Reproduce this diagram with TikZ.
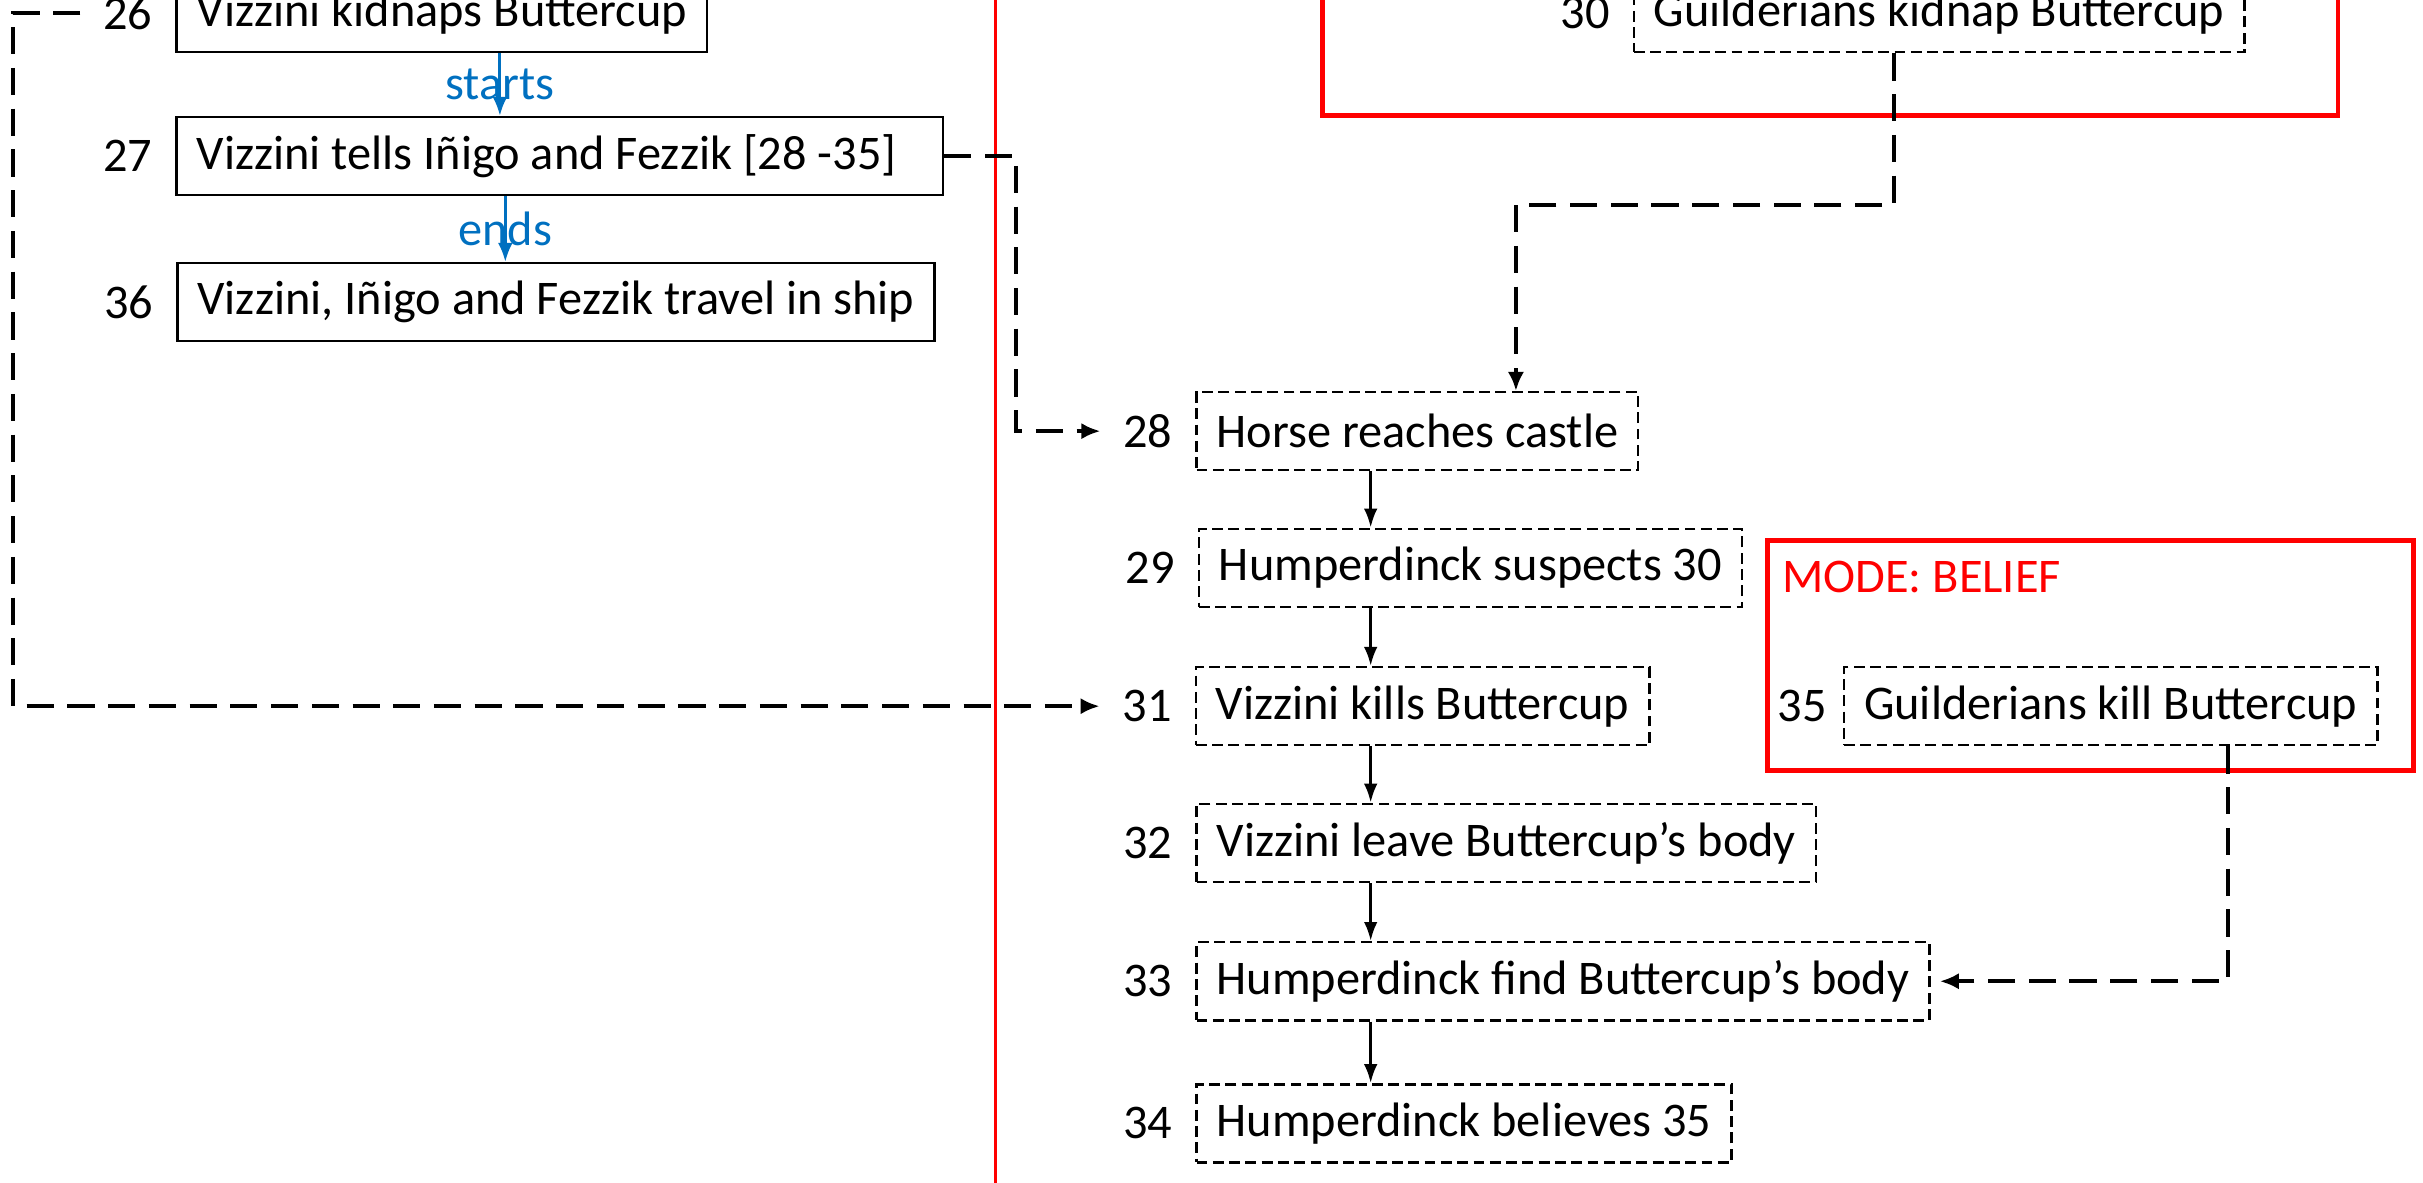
\documentclass[tikz,border=0pt]{standalone}
\usepackage{fontspec}
\setmainfont{Carlito}
\usepackage{tikz}
\usetikzlibrary{positioning}
\usetikzlibrary{arrows.meta}
\definecolor{linkblue}{RGB}{0,112,192}

\begin{document}
\begin{tikzpicture}[
  font=\fontsize{17.8}{20}\selectfont,
  event/.style={draw, line width=0.9pt, anchor=west, minimum height=1.01cm, inner xsep=0.26cm},
  maybe/.style={event, dash pattern=on 4pt off 2pt},
  num/.style={anchor=east, inner xsep=0.29cm},
  seq/.style={draw, line width=1.1pt, -{Latex[length=7pt,width=5pt]}},
  dep/.style={draw, line width=1.5pt, dash pattern=on 10pt off 5pt, -{Latex[length=7pt,width=6pt]}},
  rel/.style={draw=linkblue, line width=1.1pt, -{Latex[length=7pt,width=5.5pt]}},
  frame/.style={draw=red, line width=1.8pt}
]
\useasboundingbox (0,0) rectangle (31.36,-15.30);
\clip (0,0) rectangle (31.36,-15.30);

% what Vizzini does
\draw (2.27,-0.17) node[event] (b26) {Vizzini kidnaps Buttercup};
\draw (2.27,-2.02) node[event] (b27) {\makebox[9.4cm][l]{Vizzini tells Iñigo and Fezzik [28 -35]}};
\draw (2.28,-3.91) node[event] (b36) {Vizzini, Iñigo and Fezzik travel in ship};
\draw (b26.west) node[num] (n26) {26};
\draw (b27.west) node[num] (n27) {27};
\draw (b36.west) node[num] (n36) {36};

\coordinate (xa) at (6.47,0);
\coordinate (xb) at (6.54,0);
\path[rel] (xa |- b26.south) -- node[text=linkblue] (starts) {starts} (xa |- b27.north);
\path[rel] (xb |- b27.south) -- node[text=linkblue] (ends) {ends} (xb |- b36.north);

\draw[red, line width=1.1pt] (12.89,1) -- (12.89,-16);

% the plan told to Inigo and Fezzik
\draw[frame] (17.12,1) rectangle (30.26,-1.49);
\draw (21.13,-0.17) node[maybe] (b30) {Guilderians kidnap Buttercup};
\draw (b30.west) node[num] (n30) {30};

\draw (15.47,-5.58) node[maybe] (b28) {Horse reaches castle};
\draw (15.50,-7.35) node[maybe] (b29) {Humperdinck suspects 30};
\draw (15.46,-9.14) node[maybe] (b31) {Vizzini kills Buttercup};
\draw (15.47,-10.91) node[maybe] (b32) {Vizzini leave Buttercup’s body};
\draw (15.47,-12.70) node[maybe] (b33) {Humperdinck find Buttercup’s body};
\draw (15.47,-14.54) node[maybe] (b34) {Humperdinck believes 35};
\draw (b28.west) node[num] (n28) {28};
\draw (b29.west) node[num] (n29) {29};
\draw (b31.west) node[num] (n31) {31};
\draw (b32.west) node[num] (n32) {32};
\draw (b33.west) node[num] (n33) {33};
\draw (b34.west) node[num] (n34) {34};

\draw[frame] (22.88,-7.0) rectangle (31.24,-9.97);
\draw (23.06,-7.47) node[anchor=west, text=red, inner sep=0pt] (mode) {MODE: BELIEF};
\draw (23.85,-9.14) node[maybe] (b35) {Guilderians kill Buttercup};
\draw (b35.west) node[num, inner xsep=0.2cm] (n35) {35};

\coordinate (xs) at (17.74,0);
\path[seq] (xs |- b28.south) -- (xs |- b29.north);
\path[seq] (xs |- b29.south) -- (xs |- b31.north);
\path[seq] (xs |- b31.south) -- (xs |- b32.north);
\path[seq] (xs |- b32.south) -- (xs |- b33.north);
\path[seq] (xs |- b33.south) -- (xs |- b34.north);

\coordinate (k26) at (0.17,0);
\coordinate (k27) at (13.15,0);
\coordinate (k30) at (24.51,-2.65);
\coordinate (j30) at (19.62,-2.65);
\coordinate (k35) at (28.84,0);
\path[dep] (n26.west) -| (k26 |- n31.west) -- (n31.west);
\path[dep] (b27.east) -| (k27 |- n28.west) -- (n28.west);
\path[dep] (k30 |- b30.south) -- (k30) -- (j30) -- (j30 |- b28.north);
\path[dep, shorten >=0.12cm] (k35 |- b35.south) |- (b33.east);

\end{tikzpicture}
\end{document}
